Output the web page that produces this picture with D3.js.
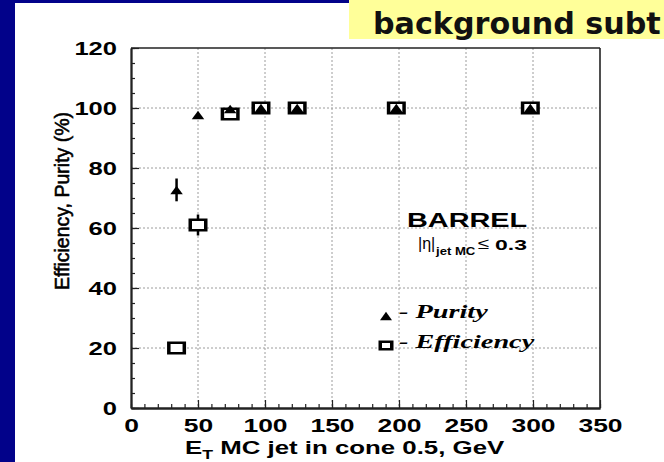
<!DOCTYPE html>
<html>
<head>
<meta charset="utf-8">
<script src="https://cdn.jsdelivr.net/npm/d3@7"></script>
<style>
  html, body { margin: 0; padding: 0; background: #ffffff; }
  svg { display: block; }
</style>
</head>
<body>
<script>
// Jet ET bins (GeV) and the two measured quantities, in percent
const etBins        = [34, 50, 74, 97, 124, 198, 298];
const purity        = [72.7, 97.7, 99.7, 100, 100, 100, 100];
const purityErr     = [3.8, 0, 0, 0, 0, 0, 0];
const efficiency    = [20, 61, 98, 100, 100, 100, 100];
const efficiencyErr = [0, 3.5, 0, 0, 0, 0, 0];

const xMajorTicks = [0, 50, 100, 150, 200, 250, 300, 350];
const yMajorTicks = [0, 20, 40, 60, 80, 100, 120];

const W = 664, H = 462;
const svg = d3.select("body").append("svg")
  .attr("width", W).attr("height", H)
  .attr("viewBox", `0 0 ${W} ${H}`);

svg.append("rect").attr("width", W).attr("height", H).attr("fill", "#ffffff");

// slide frame: navy border and yellow title box
svg.append("rect").attr("x", 0).attr("y", 0).attr("width", 15).attr("height", H).attr("fill", "#02028a");
svg.append("rect").attr("x", 0).attr("y", 0).attr("width", 349).attr("height", 3).attr("fill", "#02028a");
svg.append("rect").attr("x", 349).attr("y", 0).attr("width", W - 349).attr("height", 39).attr("fill", "#ffff99");
svg.append("text")
  .attr("x", 373).attr("y", 34)
  .attr("font-family", "'DejaVu Sans', sans-serif")
  .attr("font-weight", "bold").attr("font-size", 30.2)
  .attr("fill", "#111")
  .text("background subt");

// scales
const x = d3.scaleLinear().domain([0, 350]).range([131, 600]);
const y = d3.scaleLinear().domain([0, 120]).range([408, 48]);

const sans = "'Liberation Sans', Arial, Helvetica, sans-serif";
const serif = "'Liberation Serif', 'Times New Roman', serif";

// dotted grid
const grid = svg.append("g").attr("stroke", "#9c9c9c").attr("stroke-width", 1)
  .attr("stroke-dasharray", "2,2");
grid.selectAll("line.v").data(xMajorTicks.slice(1, -1)).join("line")
  .attr("x1", d => x(d)).attr("x2", d => x(d))
  .attr("y1", y(120)).attr("y2", y(0));
grid.selectAll("line.h").data(yMajorTicks.slice(1, -1)).join("line")
  .attr("x1", x(0)).attr("x2", x(350))
  .attr("y1", d => y(d)).attr("y2", d => y(d));

// axes: minor ticks, major ticks with stretched bold labels
const xMinor = svg.append("g").attr("transform", `translate(0,${y(0)})`)
  .call(d3.axisBottom(x).tickValues(d3.range(0, 351, 10)).tickSize(-4).tickSizeOuter(0).tickFormat(""));
const xAxis = svg.append("g").attr("transform", `translate(0,${y(0)})`)
  .call(d3.axisBottom(x).tickValues(xMajorTicks).tickSize(-8).tickSizeOuter(0));
const yMinor = svg.append("g").attr("transform", `translate(${x(0)},0)`)
  .call(d3.axisLeft(y).tickValues(d3.range(0, 121, 5)).tickSize(-4).tickSizeOuter(0).tickFormat(""));
const yAxis = svg.append("g").attr("transform", `translate(${x(0)},0)`)
  .call(d3.axisLeft(y).tickValues(yMajorTicks).tickSize(-8).tickSizeOuter(0));

[xMinor, xAxis, yMinor, yAxis].forEach(g => {
  g.selectAll("line").attr("stroke", "#222").attr("stroke-width", 1.2);
  g.select(".domain").attr("stroke", "#222").attr("stroke-width", 1.8);
});

const sxX = 1.47, sxY = 1.42;
xAxis.selectAll("text")
  .attr("font-family", sans).attr("font-weight", "bold").attr("font-size", 18)
  .attr("fill", "#000")
  .attr("y", 24.5).attr("dy", "0")
  .attr("transform", `scale(${sxX},1)`);
yAxis.selectAll("text")
  .attr("font-family", sans).attr("font-weight", "bold").attr("font-size", 18)
  .attr("fill", "#000")
  .attr("x", -14 / sxY).attr("dy", "0.36em")
  .attr("transform", `scale(${sxY},1)`);

// top and right frame lines
svg.append("line").attr("x1", x(0)).attr("x2", x(350)).attr("y1", y(120)).attr("y2", y(120))
  .attr("stroke", "#222").attr("stroke-width", 1.6);
svg.append("line").attr("x1", x(350)).attr("x2", x(350)).attr("y1", y(120)).attr("y2", y(0))
  .attr("stroke", "#222").attr("stroke-width", 1.6);

// axis titles
const xt = svg.append("text")
  .attr("transform", `translate(185,454) scale(1.36,1)`)
  .attr("font-family", sans).attr("font-weight", "bold").attr("font-size", 19)
  .attr("fill", "#000");
xt.append("tspan").text("E");
xt.append("tspan").attr("font-size", 13).attr("dy", 5).text("T");
xt.append("tspan").attr("dy", -5).text(" MC jet in cone 0.5, GeV");

svg.append("text")
  .attr("transform", `translate(69,201) rotate(-90)`)
  .attr("text-anchor", "middle")
  .attr("font-family", sans).attr("font-size", 19.5)
  .attr("fill", "#000").attr("stroke", "#000").attr("stroke-width", 0.55)
  .text("Efficiency, Purity (%)");

// marker shapes
function square(g, cx, cy, w, h, iw, ih) {
  g.append("rect").attr("x", cx - w / 2).attr("y", cy - h / 2).attr("width", w).attr("height", h).attr("fill", "#000");
  g.append("rect").attr("x", cx - iw / 2).attr("y", cy - ih / 2).attr("width", iw).attr("height", ih).attr("fill", "#fff");
}
function triangle(g, cx, cy, w, h) {
  g.append("path")
    .attr("d", `M${cx - w / 2},${cy + h / 2}L${cx + w / 2},${cy + h / 2}L${cx},${cy - h / 2}Z`)
    .attr("fill", "#000");
}

// efficiency: open squares with error bars
const effG = svg.append("g");
etBins.forEach((e, i) => {
  if (efficiencyErr[i] > 0) {
    effG.append("line")
      .attr("x1", x(e)).attr("x2", x(e))
      .attr("y1", y(efficiency[i] - efficiencyErr[i])).attr("y2", y(efficiency[i] + efficiencyErr[i]))
      .attr("stroke", "#000").attr("stroke-width", 2.5);
  }
  square(effG, x(e), y(efficiency[i]), 19, 13, 12, 8);
});

// purity: filled triangles with error bars
const purG = svg.append("g");
etBins.forEach((e, i) => {
  if (purityErr[i] > 0) {
    purG.append("line")
      .attr("x1", x(e)).attr("x2", x(e))
      .attr("y1", y(purity[i] - purityErr[i])).attr("y2", y(purity[i] + purityErr[i]))
      .attr("stroke", "#000").attr("stroke-width", 2.5);
  }
  triangle(purG, x(e), y(purity[i]), 12.5, 8.5);
});

// region label and eta cut
function stretched(tx, ty, sx, size, weight, str) {
  return svg.append("text")
    .attr("transform", `translate(${tx},${ty}) scale(${sx},1)`)
    .attr("font-family", sans).attr("font-weight", weight).attr("font-size", size)
    .attr("fill", "#000")
    .text(str);
}
stretched(407, 227, 1.48, 19.5, "bold", "BARREL");
stretched(418, 249, 1.0, 16, "normal", "|η|");
stretched(436, 255, 1.25, 10.5, "bold", "jet MC");
stretched(478, 249, 1.3, 16, "normal", "≤");
stretched(495, 249.5, 1.53, 15, "bold", "0.3");

// legend
const leg = svg.append("g");
triangle(leg, 386, 316, 12, 8.5);
square(leg, 386, 345.5, 15, 10, 8, 5);
leg.append("text")
  .attr("transform", `translate(399,318) scale(1.45,1)`)
  .attr("font-family", serif).attr("font-weight", "bold").attr("font-style", "italic")
  .attr("font-size", 19.5).attr("fill", "#000")
  .text("- Purity");
leg.append("text")
  .attr("transform", `translate(399,348) scale(1.45,1)`)
  .attr("font-family", serif).attr("font-weight", "bold").attr("font-style", "italic")
  .attr("font-size", 19.5).attr("fill", "#000")
  .text("- Efficiency");
</script>
</body>
</html>
